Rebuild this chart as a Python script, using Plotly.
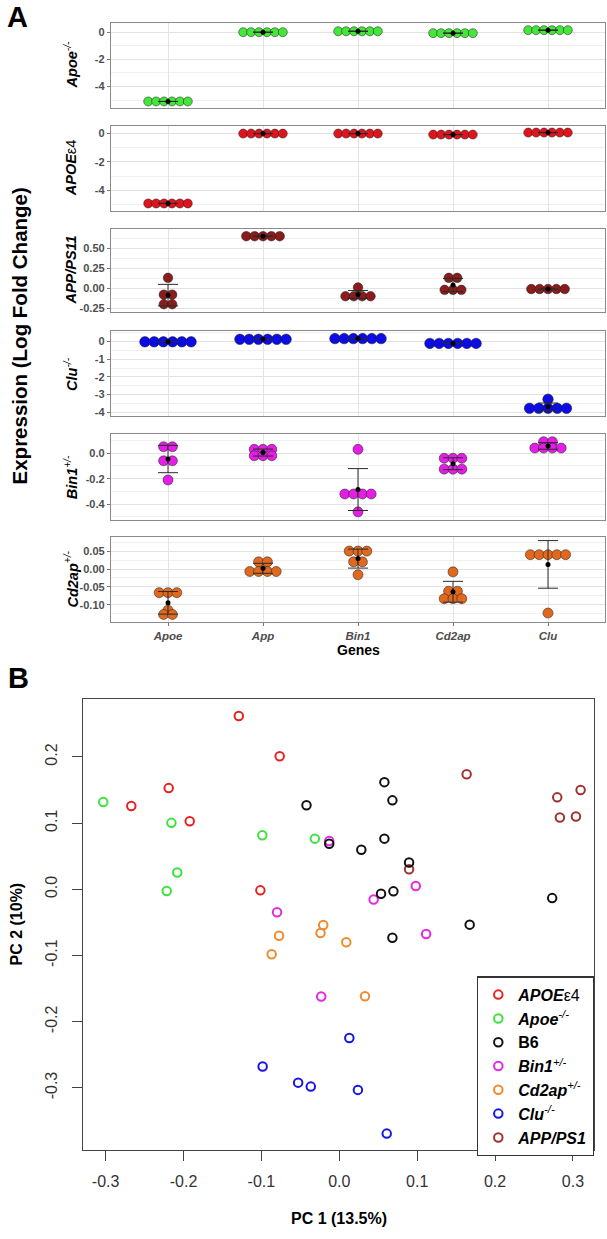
import numpy as np
import plotly.graph_objects as go

W, H = 607, 1239

# ---------------- Panel A data ----------------
genes = ["Apoe", "App", "Bin1", "Cd2ap", "Clu"]

apoe_ko_vals = [
    [-5.10, -5.10, -5.10, -5.10, -5.10, -5.10],
    [0.00, 0.00, 0.00, 0.00, 0.00, 0.00],
    [0.07, 0.07, 0.07, 0.07, 0.07, 0.07],
    [-0.07, -0.07, -0.07, -0.07, -0.07, -0.07],
    [0.15, 0.15, 0.15, 0.15, 0.15, 0.15],
]
apoe4_vals = [
    [-4.94, -4.94, -4.94, -4.94, -4.94, -4.94],
    [0.00, 0.00, 0.00, 0.00, 0.00, 0.00],
    [0.00, 0.00, 0.00, 0.00, 0.00, 0.00],
    [-0.07, -0.07, -0.07, -0.07, -0.07, -0.07],
    [0.07, 0.07, 0.07, 0.07, 0.07, 0.07],
]
app_ps1_vals = [
    [0.13, -0.08, -0.08, -0.20, -0.20],
    [0.65, 0.65, 0.65, 0.65, 0.65],
    [0.01, -0.10, -0.10, -0.10, -0.10],
    [0.13, 0.13, -0.02, -0.02, -0.02],
    [-0.01, -0.01, -0.01, -0.01, -0.01],
]
clu_ko_vals = [
    [-0.02, -0.02, -0.02, -0.02, -0.02, -0.02],
    [0.12, 0.12, 0.12, 0.12, 0.12, 0.12],
    [0.16, 0.16, 0.16, 0.16, 0.16, 0.16],
    [-0.11, -0.11, -0.11, -0.11, -0.11, -0.11],
    [-3.26, -3.77, -3.77, -3.77, -3.77, -3.77],
]
bin1_het_vals = [
    [0.05, 0.05, -0.06, -0.06, -0.21],
    [0.03, 0.03, 0.03, -0.02, -0.02, -0.02],
    [0.03, -0.32, -0.32, -0.32, -0.32, -0.46],
    [-0.04, -0.04, -0.04, -0.125, -0.125, -0.125],
    [0.09, 0.09, 0.04, 0.04, 0.04, 0.04],
]
cd2ap_het_vals = [
    [-0.066, -0.066, -0.066, -0.115, -0.127, -0.127],
    [0.020, 0.020, -0.007, -0.007, -0.007, -0.007],
    [0.050, 0.050, 0.050, 0.020, 0.020, -0.016],
    [-0.008, -0.062, -0.062, -0.083, -0.083, -0.083],
    [0.040, 0.040, 0.040, 0.040, 0.040, -0.123],
]

strain_labels_A = [
    "<b><i>Apoe</i></b><sup><i>-/-</i></sup>",
    "<b><i>APOE</i></b>\u03b54",
    "<b><i>APP/PS11</i></b>",
    "<b><i>Clu</i></b><sup><i>-/-</i></sup>",
    "<b><i>Bin1</i></b><sup><i>+/-</i></sup>",
    "<b><i>Cd2ap</i></b><sup><i>+/-</i></sup>",
]
colors_A = ["#45e63a", "#e0141c", "#8a1c1c", "#0c0ce6", "#e41ee4", "#e0691e"]
ytick_A = [
    [0, -2, -4],
    [0, -2, -4],
    [0.50, 0.25, 0.00, -0.25],
    [0, -1, -2, -3, -4],
    [0.0, -0.2, -0.4],
    [0.05, 0.00, -0.05, -0.10],
]
ytick_fmt_A = ["{:.0f}", "{:.0f}", "{:.2f}", "{:.0f}", "{:.1f}", "{:.2f}"]
yminor_A = [
    [-5, -3, -1],
    [-5, -3, -1],
    [0.625, 0.375, 0.125, -0.125],
    [0.5, -0.5, -1.5, -2.5, -3.5],
    [0.1, -0.1, -0.3, -0.5],
    [0.075, 0.025, -0.025, -0.075, -0.125],
]
yrange_A = [
    [-5.57, 0.68],
    [-5.45, 0.55],
    [-0.303, 0.745],
    [-4.225, 0.563],
    [-0.525, 0.148],
    [-0.148, 0.089],
]
# panel vertical pixel extents (top, bottom)
panel_px = [(23, 108), (126, 211), (229, 313), (332, 417), (435, 521), (538, 623)]
msize_A = [9, 9, 9.5, 10.5, 10, 10]

# ---------------- Panel B data ----------------
pca_names = [
    "<b><i>APOE</i></b>\u03b54",
    "<b><i>Apoe</i></b><sup><i>-/-</i></sup>",
    "<b>B6</b>",
    "<b><i>Bin1</i></b><sup><i>+/-</i></sup>",
    "<b><i>Cd2ap</i></b><sup><i>+/-</i></sup>",
    "<b><i>Clu</i></b><sup><i>-/-</i></sup>",
    "<b><i>APP/PS1</i></b>",
]
pca_colors = ["#e8201e", "#3ee23e", "#111111", "#e428e4", "#f08a2e", "#1616e2", "#a03232"]
pc1_apoe4 = [-0.129, -0.0765, -0.219, -0.267, -0.192, -0.1013]
pc2_apoe4 = [0.262, 0.201, 0.153, 0.126, 0.103, -0.0015]
pc1_apoeko = [-0.303, -0.2155, -0.0988, -0.208, -0.2215, -0.0314]
pc2_apoeko = [0.132, 0.1005, 0.0817, 0.0254, -0.0025, 0.0766]
pc1_b6 = [0.0579, 0.0682, -0.0421, 0.0579, -0.0129, 0.0283, 0.0896, 0.0695, 0.0536, 0.2733, 0.1674, 0.0682]
pc2_b6 = [0.162, 0.1345, 0.127, 0.0766, 0.069, 0.0599, 0.0406, -0.003, -0.0066, -0.0132, -0.0533, -0.0731]
pc1_bin1 = [-0.0799, -0.0129, 0.0982, 0.0441, 0.1115, -0.0232]
pc2_bin1 = [-0.0345, 0.0731, 0.0051, -0.0152, -0.0675, -0.162]
pc1_cd2ap = [-0.0773, -0.0868, -0.0206, -0.0241, 0.009, 0.033]
pc2_cd2ap = [-0.070, -0.098, -0.0538, -0.066, -0.080, -0.1615]
pc1_clu = [-0.0984, -0.0528, -0.0366, 0.0129, 0.0239, 0.0609]
pc2_clu = [-0.2676, -0.292, -0.298, -0.2247, -0.303, -0.369]
pc1_app = [0.1635, 0.3098, 0.2798, 0.2832, 0.3038, 0.0896]
pc2_app = [0.174, 0.150, 0.139, 0.1086, 0.110, 0.0305]
pc_xticks = [-0.3, -0.2, -0.1, 0.0, 0.1, 0.2, 0.3]
pc_yticks = [-0.3, -0.2, -0.1, 0.0, 0.1, 0.2]

# ---------------- helpers ----------------
def pxx(x):
    return x / W

def pxy(y):
    return 1 - y / H

A_LEFT, A_RIGHT = 111, 605
A_XRANGE = [0.4, 5.6]
px_per_unit = (A_RIGHT - A_LEFT) / (A_XRANGE[1] - A_XRANGE[0])


def stack_offsets(vals, step):
    offs = [0.0] * len(vals)
    groups = {}
    for i, v in enumerate(vals):
        groups.setdefault(round(v, 4), []).append(i)
    for idxs in groups.values():
        n = len(idxs)
        for k, i in enumerate(idxs):
            offs[i] = (k - (n - 1) / 2) * step
    return offs


fig = go.Figure()
NARROW = "Liberation Sans Narrow, Arial Narrow, Liberation Sans, Arial, sans-serif"
SANS = "Liberation Sans, Arial, Helvetica, sans-serif"

panel_vals = [apoe_ko_vals, apoe4_vals, app_ps1_vals, clu_ko_vals, bin1_het_vals, cd2ap_het_vals]
annotations = []
layout_axes = {}
for p, vals in enumerate(panel_vals):
    n = p + 1
    xa = "x" if n == 1 else f"x{n}"
    ya = "y" if n == 1 else f"y{n}"
    ms = msize_A[p]
    step = (ms * 0.88) / px_per_unit
    xs, ys = [], []
    for gi, gv in enumerate(vals):
        offs = stack_offsets(gv, step)
        xs += [gi + 1 + o for o in offs]
        ys += list(gv)
    fig.add_trace(go.Scatter(
        x=xs, y=ys, mode="markers", xaxis=xa, yaxis=ya, showlegend=False,
        marker=dict(size=ms, color=colors_A[p], line=dict(color="rgba(30,30,30,0.75)", width=0.7)),
        hoverinfo="skip"))
    means = [float(np.mean(g)) for g in vals]
    sds = [float(np.std(g, ddof=1)) for g in vals]
    fig.add_trace(go.Scatter(
        x=list(range(1, len(genes) + 1)), y=means, mode="markers", xaxis=xa, yaxis=ya,
        showlegend=False,
        marker=dict(size=5, color="black"),
        error_y=dict(type="data", array=sds, visible=True, color="#2a2a2a", thickness=1, width=10),
        hoverinfo="skip"))

    top, bot = panel_px[p]
    last = (p == len(panel_vals) - 1)
    layout_axes["xaxis" if n == 1 else f"xaxis{n}"] = dict(
        domain=[pxx(A_LEFT), pxx(A_RIGHT)], range=A_XRANGE, anchor=ya,
        tickvals=list(range(1, len(genes) + 1)),
        ticktext=[f"<i>{g}</i>" for g in genes],
        showticklabels=last, ticks="outside" if last else "", ticklen=3, tickcolor="#777",
        tickfont=dict(family=NARROW, size=11.5, color="#4d4d4d", weight="bold"),
        showgrid=True, gridcolor="#e4e4e4", gridwidth=1,
        showline=True, mirror=True, linecolor="#8a8a8a", linewidth=1.3,
        zeroline=False, fixedrange=True)
    tv = ytick_A[p]
    layout_axes["yaxis" if n == 1 else f"yaxis{n}"] = dict(
        domain=[pxy(bot), pxy(top)], range=yrange_A[p], anchor=xa,
        tickvals=tv, ticktext=[ytick_fmt_A[p].format(v) for v in tv],
        ticks="outside", ticklen=3, tickcolor="#777",
        tickfont=dict(family=NARROW, size=11, color="#4d4d4d", weight="bold"),
        showgrid=True, gridcolor="#e2e2e2", gridwidth=1,
        minor=dict(tickvals=yminor_A[p], showgrid=True, gridcolor="#f0f0f0", gridwidth=0.6, ticks=""),
        showline=True, mirror=True, linecolor="#8a8a8a", linewidth=1.3,
        zeroline=False, fixedrange=True)
    annotations.append(dict(
        text=strain_labels_A[p], x=pxx(71), y=pxy((top + bot) / 2), xref="paper", yref="paper",
        textangle=-90, showarrow=False, xanchor="center", yanchor="middle",
        font=dict(family=SANS, size=14.5, color="black")))

# ---------------- Panel B ----------------
pc1_all = [pc1_apoe4, pc1_apoeko, pc1_b6, pc1_bin1, pc1_cd2ap, pc1_clu, pc1_app]
pc2_all = [pc2_apoe4, pc2_apoeko, pc2_b6, pc2_bin1, pc2_cd2ap, pc2_clu, pc2_app]
draw_order = [0, 1, 3, 4, 5, 6, 2]
for gi in draw_order:
    fig.add_trace(go.Scatter(
        x=pc1_all[gi], y=pc2_all[gi], mode="markers", xaxis="x7", yaxis="y7",
        name=pca_names[gi], legendrank=gi + 1, showlegend=True,
        marker=dict(symbol="circle-open", size=8.5, color=pca_colors[gi],
                    line=dict(width=2, color=pca_colors[gi])),
        hoverinfo="skip"))

B_LEFT, B_RIGHT, B_TOP, B_BOT = 83, 594, 700, 1152
layout_axes["xaxis7"] = dict(
    domain=[pxx(B_LEFT), pxx(B_RIGHT)], range=[-0.329, 0.327], anchor="y7",
    tickvals=pc_xticks, ticktext=[f"{v:.1f}" for v in pc_xticks],
    ticks="outside", ticklen=10, tickwidth=1.2, tickcolor="#444", ticklabelstandoff=7,
    tickfont=dict(family=SANS, size=16, color="#333"),
    showgrid=False, zeroline=False,
    showline=True, mirror=True, linecolor="#444", linewidth=1.3, fixedrange=True)
layout_axes["yaxis7"] = dict(
    domain=[pxy(B_BOT), pxy(B_TOP)], range=[-0.394, 0.2878], anchor="x7",
    tickvals=pc_yticks, ticktext=[f"{v:.1f}" for v in pc_yticks],
    ticks="outside", ticklen=10, tickwidth=1.2, tickcolor="#444", tickangle=-90,
    ticklabelstandoff=8,
    tickfont=dict(family=SANS, size=16, color="#333"),
    showgrid=False, zeroline=False,
    showline=True, mirror=True, linecolor="#444", linewidth=1.3, fixedrange=True)

# ---------------- text annotations ----------------
annotations += [
    dict(text="<b>A</b>", x=pxx(17), y=pxy(17), font=dict(family=SANS, size=29, color="black")),
    dict(text="<b>B</b>", x=pxx(18), y=pxy(679), font=dict(family=SANS, size=29, color="black")),
    dict(text="<b>Expression (Log Fold Change)</b>", x=pxx(19), y=pxy(337), textangle=-90,
         font=dict(family=SANS, size=20.5, color="black")),
    dict(text="<b>Genes</b>", x=pxx((A_LEFT + A_RIGHT) / 2), y=pxy(651),
         font=dict(family=NARROW, size=14, color="black")),
    dict(text="<b>PC 1 (13.5%)</b>", x=pxx((B_LEFT + B_RIGHT) / 2), y=pxy(1220),
         font=dict(family=SANS, size=16, color="black")),
    dict(text="<b>PC 2 (10%)</b>", x=pxx(17), y=pxy((B_TOP + B_BOT) / 2), textangle=-90,
         font=dict(family=SANS, size=16, color="black")),
]
for a in annotations:
    a.setdefault("xref", "paper")
    a.setdefault("yref", "paper")
    a.setdefault("showarrow", False)
    a.setdefault("xanchor", "center")
    a.setdefault("yanchor", "middle")

fig.update_layout(
    width=W, height=H, margin=dict(l=0, r=0, t=0, b=0),
    paper_bgcolor="white", plot_bgcolor="white",
    annotations=annotations,
    legend=dict(x=pxx(B_RIGHT), y=pxy(978), xanchor="right", yanchor="top",
                bgcolor="white", bordercolor="#333", borderwidth=1.3,
                font=dict(family=SANS, size=16, color="black"),
                itemsizing="trace", tracegroupgap=0),
    **layout_axes,
)

fig.write_html("out.html", config={"displayModeBar": False},
               post_script="document.body.style.margin='0px';")
